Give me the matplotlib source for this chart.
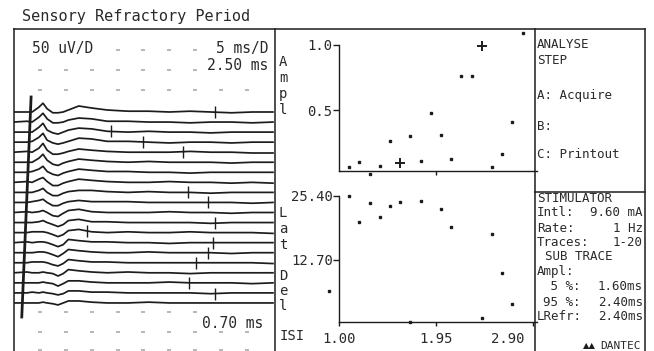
import matplotlib
matplotlib.use("Agg")
import matplotlib.pyplot as plt
import numpy as np
from matplotlib.transforms import ScaledTranslation

W, H, DPI = 654, 351, 100
INK = "#1c1c1c"
TXT = "#2a2a2a"
DOT = "#ababab"
MONO = "DejaVu Sans Mono"

# ---------------- data ----------------
title = "Sensory Refractory Period"

# amplitude plot (relative amplitude vs ISI)
isi_amp = [1.1, 1.2, 1.3, 1.4, 1.5, 1.7, 1.8, 1.9, 2.0, 2.1, 2.2, 2.3, 2.5, 2.6, 2.7, 2.8]
amp = [0.06, 0.10, 0.01, 0.07, 0.26, 0.30, 0.11, 0.48, 0.31, 0.12, 0.76, 0.76, 0.06, 0.16, 0.41, 1.09]
isi_amp_plus = [1.6, 2.4]
amp_plus = [0.09, 0.99]

# latency plot (ms vs ISI)
isi_lat = [0.9, 1.1, 1.2, 1.3, 1.4, 1.5, 1.6, 1.7, 1.8, 2.0, 2.1, 2.4, 2.5, 2.6, 2.7]
lat = [6.5, 25.3, 20.2, 24.0, 21.2, 23.5, 24.3, 0.3, 24.5, 22.8, 19.2, 1.1, 17.8, 10.1, 4.0]

amp_ticks = [0.5, 1.0]
amp_tick_labels = ["0.5", "1.0"]
lat_ticks = [12.7, 25.4]
lat_tick_labels = ["12.70", "25.40"]
isi_ticks = [1.0, 1.95, 2.9]
isi_tick_labels = ["1.00", "1.95", "2.90"]

# 20 sensory traces, time (ms) knots and amplitudes (uV)
trace_ms = [0, 2.5, 3.5, 4.8, 5.6, 6.4, 7.5, 8.5, 9.5, 10.5, 12.5, 15, 18, 22, 26, 30, 34, 38, 42, 46, 50]
traces_uv = [
    [0, 0, 0, 12, 22, 8, -2, -2, 0, 5, 15, 10, 5, 2, 2, 0, 2, 0, -2, 0, 0],
    [0, 2, 0, 12, 22, 8, -2, -2, 0, 5, 10, 8, 2, 2, 0, 0, -2, 0, 0, -2, 0],
    [0, 0, 0, 12, 22, 5, -2, -5, 0, 5, 10, 8, 2, 0, 2, 0, 0, -2, 0, 0, 0],
    [0, 0, 2, 12, 22, 5, -2, -5, -2, 2, 10, 8, 2, 2, 0, -2, 0, 0, -2, 0, 0],
    [0, 2, 0, 10, 22, 5, -5, -5, -2, 2, 8, 5, 2, 0, 0, 0, 2, 0, 0, -2, -2],
    [0, 0, 0, 10, 20, 5, -5, -8, -2, 2, 8, 5, 2, 0, 2, 0, 0, 0, -2, 0, 0],
    [0, 0, 2, 8, 15, 2, -5, -8, -2, 2, 8, 5, 2, 2, 0, 0, -2, 0, 0, 0, 0],
    [0, 2, 0, 8, 12, 2, -8, -8, -2, 2, 8, 5, 2, 0, 0, 2, 0, 0, -2, 0, -2],
    [0, 0, 0, 5, 10, 0, -8, -8, -2, 2, 5, 5, 2, 0, 2, 0, 0, -2, 0, 0, 0],
    [0, 0, 2, 5, 8, 0, -8, -8, -2, 2, 5, 2, 2, 2, 0, 0, 0, 0, 0, -2, 0],
    [0, 2, 0, 2, 5, 0, -8, -10, -2, 5, 8, 2, 0, 0, 0, 2, 0, 0, -2, 0, 0],
    [0, 0, 0, 2, 5, 0, -5, -10, -5, 5, 8, 2, 2, 0, 0, 0, 0, -2, 0, 0, 0],
    [0, 0, 2, 2, 2, 0, -5, -10, -5, 5, 8, 2, 0, 2, 0, 0, 2, 0, 0, 0, -2],
    [0, 2, 0, 2, 2, 0, -5, -10, -5, 8, 5, 2, 2, 0, 0, -2, 0, 0, 0, 0, 0],
    [0, 0, 0, 2, 2, 0, -5, -10, -2, 8, 5, 2, 0, 0, 2, 0, 0, 0, -2, 0, 0],
    [0, 0, 2, 2, 2, 0, -5, -8, -2, 8, 5, 2, 2, 0, 0, 0, 0, 0, 0, 0, -2],
    [0, 2, 0, 0, 2, 0, -2, -8, -2, 8, 5, 2, 0, 2, 0, 0, -2, 0, 0, 0, 0],
    [0, 0, 0, 0, 2, 0, -2, -8, -2, 5, 5, 2, 0, 0, 0, 2, 0, 0, 0, -2, 0],
    [0, 0, 2, 0, 2, 0, -2, -5, -2, 5, 5, 2, 2, 0, 0, 0, 0, -2, 0, 0, 0],
    [0, 0, 0, 0, 2, 0, -2, -5, 0, 5, 5, 2, 0, 0, 2, 0, 0, 0, 0, 0, 0],
]
marker_trace = [1, 3, 4, 5, 9, 10, 12, 13, 14, 15, 16, 18, 19]
marker_ms = [38.8, 18.7, 24.9, 32.6, 33.6, 37.5, 38.8, 14.1, 38.4, 37.5, 35.1, 33.8, 38.8]
artifact_ms = [3.3, 1.5]

# ---------------- figure ----------------
fig = plt.figure(figsize=(W / DPI, H / DPI), dpi=DPI)
fig.patch.set_facecolor("white")


def rect(x0, y0, x1, y1):
    return [x0 / W, 1 - y1 / H, (x1 - x0) / W, (y1 - y0) / H]


bg = fig.add_axes([0, 0, 1, 1])
bg.set_xlim(0, W)
bg.set_ylim(H, 0)
bg.axis("off")

lw_frame = 1.1
bg.plot([14, 645], [29, 29], color=INK, lw=lw_frame)
for xv in (14, 275, 535, 645):
    bg.plot([xv, xv], [29, H], color=INK, lw=lw_frame)
bg.plot([535, 645], [192, 192], color=INK, lw=lw_frame)

# texts
bg.text(22, 17, title, family=MONO, fontsize=11, color=TXT, va="center", ha="left")
bg.text(32, 48, "50 uV/D", family=MONO, fontsize=10.5, color=TXT, va="center")
bg.text(268, 48, "5 ms/D", family=MONO, fontsize=10.5, color=TXT, va="center", ha="right")
bg.text(268, 66, "2.50 ms", family=MONO, fontsize=10.5, color=TXT, va="center", ha="right")
bg.text(263, 323, "0.70 ms", family=MONO, fontsize=10.5, color=TXT, va="center", ha="right")

for ch, yy in zip("Ampl", (62, 78, 94, 110)):
    bg.text(283, yy, ch, family=MONO, fontsize=10, color=TXT, va="center", ha="center")
for ch, yy in zip("Lat Del", (213, 229, 245, 260, 276, 291, 306)):
    bg.text(283, yy, ch, family=MONO, fontsize=10, color=TXT, va="center", ha="center")
bg.text(280, 336, "ISI", family=MONO, fontsize=10, color=TXT, va="center", ha="left")

rp = dict(family=MONO, fontsize=9, color=TXT, va="center")
bg.text(537, 45, "ANALYSE", **rp)
bg.text(537, 60, "STEP", **rp)
bg.text(537, 96, "A: Acquire", **rp)
bg.text(537, 127, "B:", **rp)
bg.text(537, 155, "C: Printout", **rp)
bg.text(537, 198, "STIMULATOR", **rp)
rows = [("Intl:", "9.60 mA", 213), ("Rate:", "1 Hz", 228), ("Traces:", "1-20", 243)]
for lab, val, yy in rows:
    bg.text(537, yy, lab, **rp)
    bg.text(643, yy, val, ha="right", **rp)
bg.text(545, 257, "SUB TRACE", **rp)
bg.text(537, 272, "Ampl:", **rp)
rows2 = [(" 5 %:", "1.60ms", 287), ("95 %:", "2.40ms", 302), ("LRefr:", "2.40ms", 317)]
for lab, val, yy in rows2:
    bg.text(537 if lab.startswith("L") else 543, yy, lab, **rp)
    bg.text(643, yy, val, ha="right", **rp)
bg.text(596, 346, "\u25B2\u25B2", family="DejaVu Sans", fontsize=6, color=INK, va="center", ha="right")
bg.text(600, 346, "DANTEC", family=MONO, fontsize=8, color=TXT, va="center", ha="left")

# ---------------- traces ----------------
axT = fig.add_axes(rect(14, 30, 275, 351))
axT.set_facecolor("none")
axT.set_xlim(0, 50.4)
axT.set_ylim(-802.5, 0)
axT.axis("off")

UVPX = 2.5
def base(k):
    return -(82 + 10.05 * k) * UVPX

for k, vals in enumerate(traces_uv):
    axT.plot(trace_ms, [base(k) + v for v in vals], color=INK, lw=1.25,
             solid_joinstyle="round")
for tr, ms in zip(marker_trace, marker_ms):
    yv = base(tr - 1) + np.interp(ms, trace_ms, traces_uv[tr - 1])
    axT.plot([ms], [yv], marker="|", ms=8, mew=1.0, color=INK)
axT.plot(artifact_ms, [-(97 - 30) * UVPX, -(317 - 30) * UVPX], color=INK, lw=2.0)

# grid dots
dot_rows = {
    -20 * UVPX: [20, 25, 30, 35],
    -40 * UVPX: [5, 10, 15, 20, 25, 30, 35],
    -60 * UVPX: [5, 10, 15, 20, 25, 30, 35, 40, 45],
    -282 * UVPX: [5, 10, 15, 20, 25, 30, 35],
    -302 * UVPX: [5, 10, 15, 20, 25, 30, 35, 40, 45],
    -320 * UVPX: [5, 10, 15, 20, 25, 30, 35, 40, 45],
}
for yv, xs in dot_rows.items():
    axT.plot(xs, [yv] * len(xs), ls="none", marker="_", ms=2.2, mew=1.2, color=DOT, clip_on=False)

# ---------------- scatter axes ----------------
def setup(ax, ylim, ybottom, ytop, yt, ytl):
    ax.set_facecolor("none")
    ax.set_xlim((280 - 339) / 102 + 1, (540 - 339) / 102 + 1)
    ax.set_ylim(*ylim)
    for s in ("top", "right"):
        ax.spines[s].set_visible(False)
    ax.spines["left"].set_position(("data", 1.0))
    ax.spines["left"].set_bounds(ybottom, ytop)
    ax.spines["bottom"].set_position(("data", ybottom))
    ax.spines["bottom"].set_bounds(1.0, 2.94)
    for s in ("left", "bottom"):
        ax.spines[s].set_color(INK)
        ax.spines[s].set_linewidth(1.0)
    ax.set_yticks(yt)
    ax.set_yticklabels(ytl, family=MONO, fontsize=10, color=TXT)
    ax.tick_params(axis="y", direction="out", length=4, width=1, pad=0.5, color=INK)


axA = fig.add_axes(rect(280, 30, 540, 183))
setup(axA, ((175 - 183) / 130, (175 - 30) / 130), 0.03, 1.0, amp_ticks, amp_tick_labels)
axA.set_xticks([1.95])
axA.set_xticklabels([])
axA.tick_params(axis="x", direction="out", length=3, width=1, color=INK)
axA.plot(isi_amp, amp, ls="none", marker="s", ms=2.1, color=INK, clip_on=False)
axA.plot(isi_amp_plus, amp_plus, ls="none", marker="+", ms=7, mew=1.4, color=INK, clip_on=False)

axL = fig.add_axes(rect(280, 185, 540, 330))
setup(axL, ((324 - 330) / 5.04, (324 - 185) / 5.04), 0.4, 25.4, lat_ticks, lat_tick_labels)
axL.set_xticks(isi_ticks)
axL.set_xticklabels(isi_tick_labels, family=MONO, fontsize=10, color=TXT)
axL.tick_params(axis="x", direction="out", length=3, width=1, pad=4, color=INK)
lbl = axL.get_xticklabels()[-1]
lbl.set_transform(lbl.get_transform() + ScaledTranslation(-25 / DPI, 0, fig.dpi_scale_trans))
axL.plot(isi_lat, lat, ls="none", marker="s", ms=2.1, color=INK, clip_on=False)

fig.savefig("out.png", dpi=DPI, facecolor="white")
